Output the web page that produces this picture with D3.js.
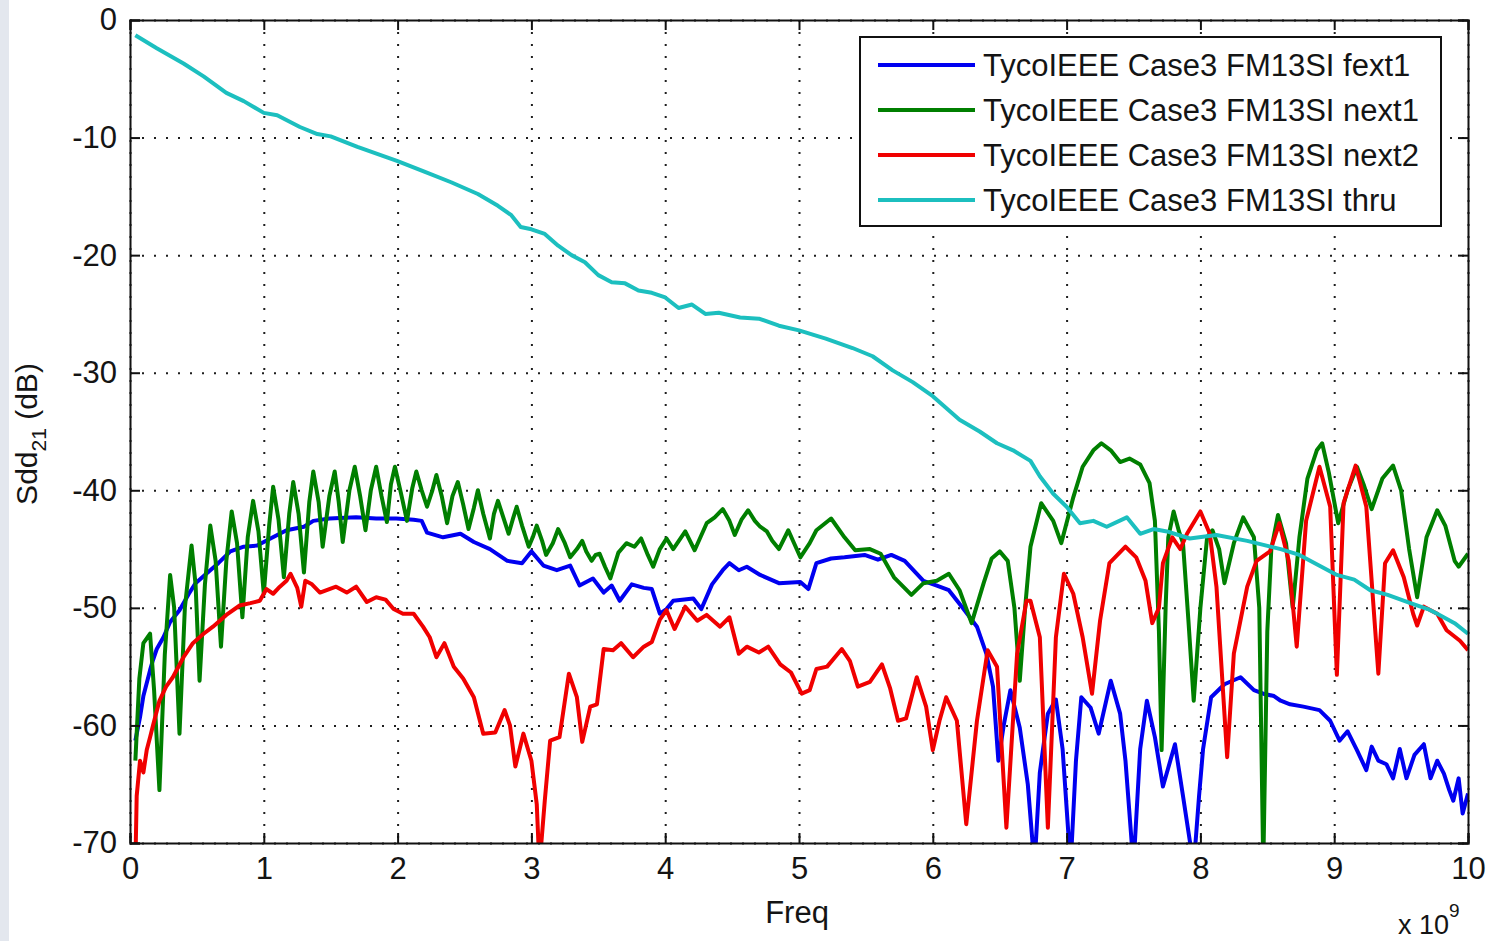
<!DOCTYPE html>
<html>
<head>
<meta charset="utf-8">
<script src="https://cdn.jsdelivr.net/npm/d3@7"></script>
<style>
  body { margin: 0; background: #fff; }
  text { font-family: "Liberation Sans", Arial, sans-serif; fill: #141414; }
</style>
</head>
<body>
<div id="chart"></div>
<script>
// frequency in GHz (axis shows x 10^9), value in dB
var fext1 = [[0.04,-61.3],[0.075,-59.3],[0.10,-57.5],[0.15,-55.3],[0.17,-54.5],[0.20,-53.5],[0.25,-52.5],[0.30,-51.2],[0.37,-50.2],[0.44,-48.8],[0.49,-47.9],[0.57,-47.1],[0.66,-46.2],[0.75,-45.2],[0.85,-44.8],[0.95,-44.7],[1.05,-44.1],[1.17,-43.4],[1.30,-43.1],[1.37,-42.6],[1.49,-42.4],[1.69,-42.3],[1.84,-42.4],[1.99,-42.4],[2.12,-42.5],[2.18,-42.6],[2.22,-43.6],[2.34,-44],[2.47,-43.7],[2.57,-44.4],[2.69,-45],[2.82,-46],[2.93,-46.2],[3.00,-45.2],[3.09,-46.4],[3.19,-46.8],[3.29,-46.4],[3.36,-48.1],[3.46,-47.5],[3.54,-48.7],[3.60,-48.1],[3.66,-49.4],[3.75,-48],[3.84,-48.3],[3.90,-48.4],[3.96,-50.5],[4.01,-50.1],[4.06,-49.4],[4.21,-49.2],[4.27,-50.1],[4.35,-48],[4.43,-46.8],[4.48,-46.2],[4.55,-46.8],[4.61,-46.5],[4.71,-47.2],[4.85,-47.9],[5.01,-47.8],[5.07,-48.4],[5.13,-46.2],[5.24,-45.8],[5.34,-45.7],[5.49,-45.5],[5.59,-45.9],[5.69,-45.5],[5.79,-46],[5.93,-47.7],[6.03,-48.1],[6.12,-48.5],[6.23,-50.1],[6.33,-51.6],[6.40,-53.9],[6.45,-56.7],[6.49,-63],[6.53,-60],[6.58,-57],[6.65,-60.2],[6.71,-65],[6.76,-72],[6.80,-64],[6.86,-59],[6.92,-57.8],[6.97,-62],[7.03,-72],[7.07,-63],[7.11,-57.6],[7.18,-58.5],[7.24,-60.7],[7.33,-56.2],[7.40,-59],[7.44,-63],[7.50,-72],[7.55,-62],[7.60,-57.9],[7.66,-61],[7.72,-65.2],[7.81,-61.6],[7.87,-66],[7.95,-72],[7.99,-66],[8.02,-62],[8.08,-57.6],[8.18,-56.5],[8.30,-55.9],[8.40,-57],[8.47,-57.3],[8.55,-57.5],[8.60,-57.9],[8.67,-58.2],[8.77,-58.4],[8.89,-58.7],[8.97,-59.6],[9.04,-61.3],[9.10,-60.5],[9.17,-62.1],[9.24,-63.8],[9.28,-61.8],[9.33,-63],[9.39,-63.3],[9.44,-64.5],[9.49,-62],[9.54,-64.5],[9.60,-62.5],[9.67,-61.6],[9.72,-64.5],[9.77,-63],[9.82,-64.1],[9.86,-65.5],[9.89,-66.4],[9.93,-64.5],[9.96,-67.5],[10,-65.8]];

var next1 = [[0.04,-63],[0.07,-56],[0.10,-53],[0.15,-52.2],[0.18,-57],[0.22,-65.5],[0.26,-54],[0.30,-47.2],[0.33,-50],[0.37,-60.7],[0.41,-50],[0.46,-44.7],[0.49,-48],[0.52,-56.2],[0.56,-48],[0.60,-43],[0.64,-46],[0.68,-53.3],[0.72,-46],[0.76,-41.8],[0.80,-44.5],[0.84,-50.8],[0.88,-44],[0.92,-40.9],[0.96,-43.5],[1.00,-48.8],[1.04,-43],[1.07,-39.7],[1.11,-42.5],[1.15,-47.4],[1.19,-42],[1.22,-39.3],[1.26,-42],[1.30,-47],[1.34,-41],[1.37,-38.4],[1.41,-41],[1.44,-44.8],[1.49,-40.5],[1.53,-38.4],[1.56,-41],[1.59,-44.4],[1.64,-40],[1.68,-38],[1.72,-40.5],[1.76,-43.4],[1.80,-40],[1.84,-38],[1.88,-40.5],[1.92,-42.7],[1.95,-39.5],[1.98,-38],[2.03,-40.5],[2.07,-42.6],[2.11,-39.8],[2.14,-38.4],[2.18,-40],[2.22,-41.4],[2.26,-40],[2.29,-38.7],[2.33,-40.5],[2.37,-42.8],[2.41,-40.5],[2.45,-39.3],[2.49,-41.2],[2.53,-43.3],[2.57,-41.5],[2.60,-40],[2.64,-42],[2.69,-44.1],[2.72,-42],[2.75,-40.9],[2.79,-42.3],[2.83,-43.7],[2.86,-42.5],[2.89,-41.4],[2.93,-43],[2.98,-44.8],[3.01,-44],[3.04,-43],[3.08,-44.3],[3.11,-45.5],[3.16,-44.5],[3.20,-43.3],[3.25,-44.5],[3.29,-45.7],[3.34,-45],[3.38,-44.3],[3.41,-45.2],[3.45,-46],[3.48,-45.5],[3.51,-45.4],[3.55,-46.5],[3.59,-47.5],[3.65,-45.3],[3.71,-44.5],[3.77,-44.8],[3.82,-44.1],[3.87,-45.5],[3.91,-46.5],[3.96,-45],[4.01,-44.1],[4.06,-45],[4.15,-43.5],[4.22,-45.1],[4.31,-42.8],[4.37,-42.3],[4.43,-41.6],[4.48,-42.6],[4.52,-43.8],[4.57,-42.5],[4.62,-41.7],[4.67,-42.6],[4.71,-43.1],[4.76,-43.5],[4.80,-44.3],[4.85,-45],[4.92,-43.4],[5.01,-45.7],[5.08,-44.5],[5.13,-43.4],[5.24,-42.4],[5.34,-44],[5.42,-45.1],[5.53,-45],[5.61,-45.4],[5.71,-47.4],[5.84,-48.9],[5.93,-47.9],[6.03,-47.7],[6.12,-47.1],[6.20,-48.5],[6.29,-51.3],[6.38,-47.9],[6.44,-45.8],[6.50,-45.2],[6.56,-46],[6.61,-50],[6.65,-56.2],[6.69,-50],[6.73,-44.8],[6.81,-41.1],[6.90,-42.6],[6.96,-44.5],[7.05,-40.6],[7.12,-38],[7.20,-36.6],[7.26,-36],[7.33,-36.6],[7.40,-37.6],[7.47,-37.3],[7.55,-37.8],[7.62,-39.4],[7.66,-42.6],[7.69,-52],[7.71,-62.1],[7.74,-50],[7.76,-44],[7.80,-41.8],[7.84,-43.5],[7.87,-44.5],[7.91,-51],[7.95,-57.9],[8.00,-50],[8.05,-44],[8.09,-43.4],[8.14,-45],[8.18,-47.9],[8.25,-44.5],[8.32,-42.3],[8.40,-44],[8.44,-50],[8.47,-72],[8.50,-52],[8.53,-45],[8.58,-42.1],[8.64,-44.5],[8.69,-50],[8.74,-44],[8.80,-39],[8.87,-36.6],[8.91,-36],[8.96,-38.5],[9.03,-42.8],[9.10,-40],[9.17,-38],[9.22,-39.5],[9.28,-41.6],[9.36,-39],[9.44,-37.9],[9.50,-40],[9.56,-45],[9.62,-49.1],[9.69,-44],[9.77,-41.7],[9.83,-43],[9.90,-46],[9.93,-46.5],[10,-45.4]];

var next2 = [[0.04,-72],[0.05,-66],[0.075,-63],[0.10,-64],[0.125,-62.1],[0.15,-61],[0.17,-60.1],[0.22,-57.9],[0.27,-56.7],[0.32,-55.9],[0.40,-54.2],[0.47,-53],[0.55,-52.2],[0.62,-51.6],[0.72,-50.6],[0.82,-49.8],[0.90,-49.6],[0.97,-49.4],[1.02,-48.4],[1.07,-48.8],[1.12,-48.2],[1.17,-47.7],[1.20,-47.1],[1.25,-48.3],[1.28,-49.9],[1.31,-47.7],[1.36,-48],[1.42,-48.7],[1.49,-48.4],[1.54,-48.2],[1.62,-48.7],[1.69,-48.2],[1.77,-49.5],[1.84,-49.1],[1.91,-49.3],[1.97,-50.1],[2.04,-50.5],[2.12,-50.5],[2.19,-51.6],[2.24,-52.5],[2.29,-54.2],[2.35,-53],[2.42,-55],[2.49,-56],[2.57,-57.6],[2.64,-60.7],[2.73,-60.6],[2.80,-58.7],[2.84,-60],[2.88,-63.5],[2.94,-60.7],[3.00,-63],[3.04,-66.7],[3.06,-72],[3.10,-66.4],[3.14,-61.3],[3.21,-61],[3.28,-55.6],[3.34,-57.6],[3.38,-61.4],[3.44,-58.4],[3.49,-58.2],[3.54,-53.5],[3.61,-53.6],[3.67,-53],[3.76,-54.2],[3.84,-53.3],[3.90,-52.9],[3.96,-51],[4.01,-50.2],[4.07,-51.8],[4.15,-49.9],[4.24,-51.1],[4.31,-50.6],[4.41,-51.6],[4.48,-50.8],[4.55,-53.9],[4.61,-53.3],[4.70,-53.8],[4.77,-53.3],[4.86,-54.8],[4.94,-55.5],[5.02,-57.3],[5.08,-57],[5.13,-55.2],[5.21,-55],[5.32,-53.5],[5.38,-54.5],[5.44,-56.7],[5.53,-56.3],[5.62,-54.8],[5.68,-56.8],[5.74,-59.6],[5.80,-59.4],[5.88,-55.9],[5.95,-58.4],[6.00,-62.1],[6.05,-59.6],[6.10,-57.6],[6.18,-59.6],[6.25,-68.4],[6.33,-59.6],[6.41,-53.6],[6.48,-55],[6.55,-68.7],[6.63,-53.9],[6.70,-49.4],[6.73,-49.4],[6.80,-52.5],[6.86,-68.7],[6.92,-52.5],[6.98,-47.1],[7.05,-48.8],[7.12,-52.5],[7.19,-57.3],[7.25,-51.1],[7.32,-46.2],[7.44,-44.8],[7.52,-45.7],[7.59,-47.7],[7.64,-51.3],[7.69,-50],[7.72,-46.2],[7.79,-44],[7.85,-45],[7.90,-43.7],[8.00,-41.8],[8.07,-43.7],[8.12,-48.2],[8.20,-62.7],[8.25,-53.9],[8.35,-48.2],[8.42,-46],[8.52,-45.2],[8.59,-42.8],[8.66,-46],[8.72,-53.3],[8.79,-42.6],[8.89,-38],[8.97,-41.4],[9.02,-55.7],[9.07,-41.1],[9.16,-37.9],[9.24,-41.4],[9.33,-55.6],[9.38,-46.2],[9.44,-45.1],[9.52,-47.4],[9.59,-50.5],[9.62,-51.5],[9.67,-49.9],[9.77,-50.5],[9.84,-51.9],[9.94,-52.8],[10,-53.6]];

var thru = [[0.04,-1.3],[0.2,-2.4],[0.4,-3.7],[0.55,-4.8],[0.72,-6.2],[0.85,-6.9],[1.0,-7.9],[1.1,-8.1],[1.27,-9.1],[1.4,-9.7],[1.5,-9.9],[1.7,-10.8],[2.0,-12],[2.2,-12.9],[2.4,-13.8],[2.6,-14.8],[2.75,-15.8],[2.85,-16.6],[2.92,-17.6],[3.0,-17.8],[3.1,-18.2],[3.2,-19.2],[3.3,-20],[3.4,-20.6],[3.5,-21.7],[3.6,-22.3],[3.7,-22.4],[3.8,-23],[3.9,-23.2],[4.0,-23.6],[4.1,-24.5],[4.2,-24.2],[4.3,-25],[4.4,-24.9],[4.56,-25.3],[4.7,-25.4],[4.85,-26],[5.0,-26.4],[5.2,-27.1],[5.4,-27.9],[5.55,-28.6],[5.7,-29.8],[5.85,-30.8],[6.0,-32],[6.2,-34],[6.35,-35],[6.48,-36],[6.6,-36.6],[6.73,-37.5],[6.8,-38.8],[6.9,-40.3],[7.0,-41.4],[7.1,-42.8],[7.2,-42.6],[7.3,-43.1],[7.45,-42.3],[7.55,-43.7],[7.65,-43.3],[7.75,-43.5],[7.92,-44.1],[8.12,-43.8],[8.35,-44.3],[8.6,-45],[8.74,-45.5],[9.02,-47.2],[9.15,-47.6],[9.27,-48.5],[9.4,-48.9],[9.57,-49.6],[9.7,-50.1],[9.77,-50.5],[9.9,-51.3],[10,-52.2]];

var seriesNames = ["TycoIEEE Case3 FM13SI fext1", "TycoIEEE Case3 FM13SI next1",
                   "TycoIEEE Case3 FM13SI next2", "TycoIEEE Case3 FM13SI thru"];
var seriesColors = ["#0000f0", "#007f00", "#f00000", "#1cbfbf"];
var xTicks = [0, 1, 2, 3, 4, 5, 6, 7, 8, 9, 10];
var yTicks = [-70, -60, -50, -40, -30, -20, -10, 0];

var svgWidth = 1488;
var svgHeight = 941;
var margin = { top: 20, right: 20, bottom: 98, left: 130 };
var width = 1468 - margin.left;
var height = 843 - margin.top;

var svg = d3.select("#chart")
    .append("svg")
    .attr("width", svgWidth)
    .attr("height", svgHeight);

// light strip at left edge of the screenshot
svg.append("rect").attr("x", 0).attr("y", 0).attr("width", 9).attr("height", svgHeight).attr("fill", "#e3e7ee");

var chartGroup = svg.append("g")
    .attr("transform", `translate(${margin.left}, ${margin.top})`);

var xScale = d3.scaleLinear().domain([0, 10]).range([0, width]);
var yScale = d3.scaleLinear().domain([-70, 0]).range([height, 0]);

chartGroup.append("clipPath").attr("id", "plotclip")
    .append("rect").attr("width", width).attr("height", height);

// dotted grid
var gridX = chartGroup.append("g")
    .call(d3.axisBottom(xScale).tickValues(xTicks).tickSize(height).tickFormat(""));
var gridY = chartGroup.append("g")
    .call(d3.axisLeft(yScale).tickValues(yTicks).tickSize(-width).tickFormat(""));
[gridX, gridY].forEach(function(g) {
    g.select(".domain").remove();
    g.selectAll("line")
        .attr("stroke", "#1e1e1e")
        .attr("stroke-width", 2)
        .attr("stroke-dasharray", "2,10");
});

// series lines
var line = d3.line()
    .x(d => xScale(d[0]))
    .y(d => yScale(d[1]));

var allSeries = [fext1, next1, next2, thru];
chartGroup.append("g").attr("clip-path", "url(#plotclip)")
    .selectAll("path")
    .data(allSeries)
    .enter()
    .append("path")
    .attr("d", line)
    .attr("fill", "none")
    .attr("stroke", (d, i) => seriesColors[i])
    .attr("stroke-width", 4)
    .attr("stroke-linejoin", "round");

// axes, ticks pointing inward like matlab; plain hyphen for minus
var plainFormat = d => String(d);
var bottomAxis = d3.axisBottom(xScale).tickValues(xTicks).tickSize(-10).tickPadding(14).tickFormat(plainFormat);
var leftAxis = d3.axisLeft(yScale).tickValues(yTicks).tickSize(-10).tickPadding(13).tickFormat(plainFormat);

var xAxis = chartGroup.append("g")
    .attr("transform", `translate(0, ${height})`)
    .call(bottomAxis);
var yAxis = chartGroup.append("g")
    .call(leftAxis);
var topAxis = chartGroup.append("g")
    .call(d3.axisTop(xScale).tickValues(xTicks).tickSize(-10).tickFormat(""));
var rightAxis = chartGroup.append("g")
    .attr("transform", `translate(${width}, 0)`)
    .call(d3.axisRight(yScale).tickValues(yTicks).tickSize(-10).tickFormat(""));

[xAxis, yAxis, topAxis, rightAxis].forEach(function(g) {
    g.select(".domain").attr("stroke", "#111").attr("stroke-width", 2);
    g.selectAll("line").attr("stroke", "#111").attr("stroke-width", 2);
    g.selectAll("text")
        .attr("font-size", "31px")
        .attr("font-family", "Liberation Sans, Arial, sans-serif")
        .attr("fill", "#141414");
});

// labels
svg.append("text")
    .attr("x", 797)
    .attr("y", 923)
    .attr("text-anchor", "middle")
    .attr("font-size", "31px")
    .text("Freq");

var expo = svg.append("text")
    .attr("x", 1398)
    .attr("y", 934)
    .attr("font-size", "27px");
expo.append("tspan").text("x 10");
expo.append("tspan").attr("dy", -17).attr("font-size", "19px").text("9");

var ylab = svg.append("text")
    .attr("transform", "translate(37, 434) rotate(-90)")
    .attr("text-anchor", "middle")
    .attr("font-size", "30px");
ylab.append("tspan").text("Sdd");
ylab.append("tspan").attr("dy", 9).attr("font-size", "21px").text("21");
ylab.append("tspan").attr("dy", -9).text(" (dB)");

// legend
var legend = svg.append("g");
legend.append("rect")
    .attr("x", 860).attr("y", 37)
    .attr("width", 581).attr("height", 189)
    .attr("fill", "#fff")
    .attr("stroke", "#111")
    .attr("stroke-width", 2);

var rows = legend.selectAll(".row")
    .data(seriesNames)
    .enter()
    .append("g")
    .attr("transform", (d, i) => `translate(0, ${65 + i * 45})`);
rows.append("line")
    .attr("x1", 878).attr("x2", 975)
    .attr("stroke", (d, i) => seriesColors[i])
    .attr("stroke-width", 4);
rows.append("text")
    .attr("x", 983)
    .attr("dy", "0.36em")
    .attr("font-size", "31px")
    .text(d => d);
</script>
</body>
</html>
